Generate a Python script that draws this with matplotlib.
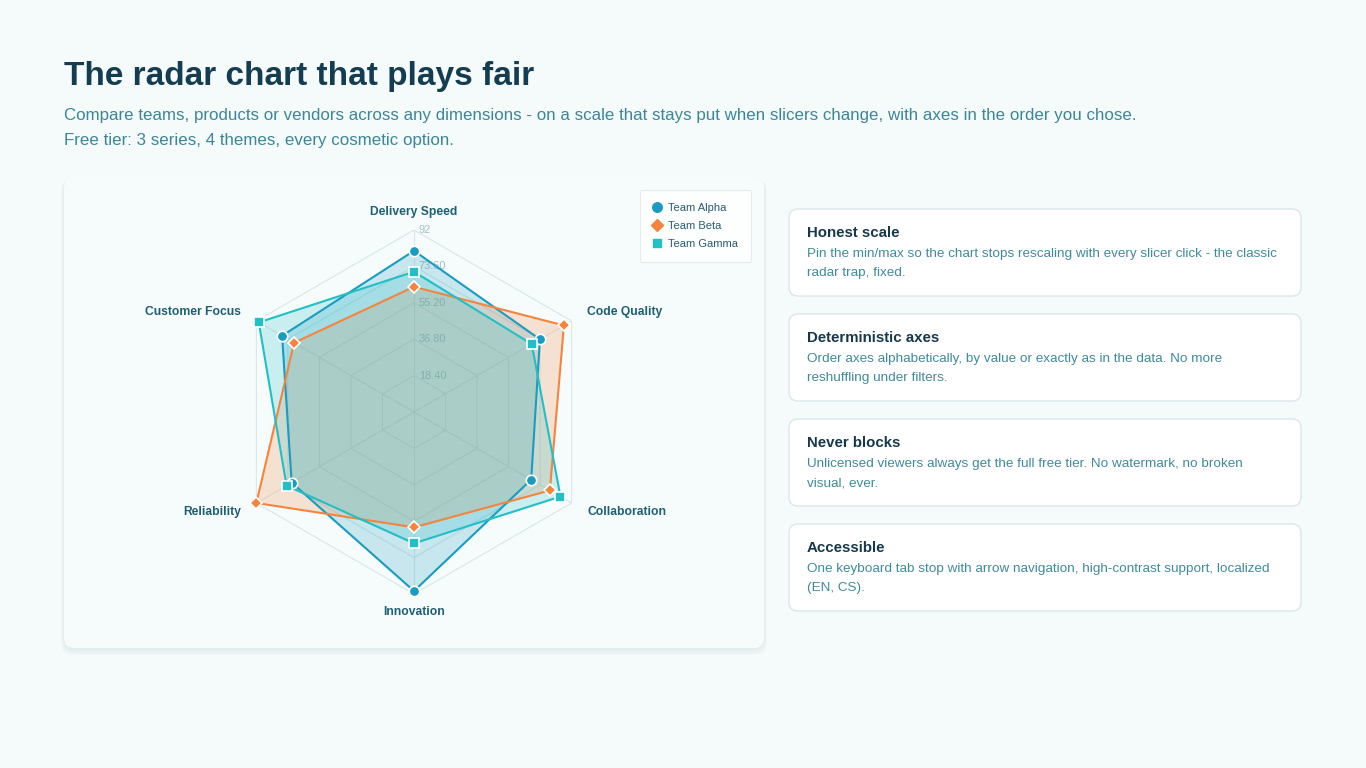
import matplotlib

matplotlib.use("Agg")

import matplotlib.pyplot as plt
import numpy as np
from matplotlib.lines import Line2D
from matplotlib.patches import FancyBboxPatch

# --- data -----------------------------------------------------------------
axis_names = ["Delivery Speed", "Code Quality", "Collaboration", "Innovation", "Reliability", "Customer Focus"]
team_alpha = [81.5, 73.5, 68.4, 90.5, 71.4, 77.0]
team_beta = [63.3, 87.5, 79.3, 58.3, 92.0, 70.0]
team_gamma = [70.9, 68.7, 85.5, 66.4, 74.4, 90.6]
series_names = ["Team Alpha", "Team Beta", "Team Gamma"]
scale_max = 92.0
tick_values = [18.4, 36.8, 55.2, 73.6, 92.0]
tick_labels = ["18.40", "36.80", "55.20", "73.60", "92"]

title = "The radar chart that plays fair"
subtitle = [
    "Compare teams, products or vendors across any dimensions - on a scale that stays put when slicers change, with axes in the order you chose.",
    "Free tier: 3 series, 4 themes, every cosmetic option.",
]
card_titles = ["Honest scale", "Deterministic axes", "Never blocks", "Accessible"]
card_texts = [
    "Pin the min/max so the chart stops rescaling with every slicer click - the classic\nradar trap, fixed.",
    "Order axes alphabetically, by value or exactly as in the data. No more\nreshuffling under filters.",
    "Unlicensed viewers always get the full free tier. No watermark, no broken\nvisual, ever.",
    "One keyboard tab stop with arrow navigation, high-contrast support, localized\n(EN, CS).",
]

# --- style ----------------------------------------------------------------
plt.rcParams["font.family"] = ["Liberation Sans", "DejaVu Sans"]
W, H = 1366, 768
BG = "#f5fafa"
colors = ["#1a9cc0", "#f5843c", "#22bfc7"]
markers = ["o", "D", "s"]
marker_sizes = [7.5, 6.5, 6.8]

fig = plt.figure(figsize=(W / 100, H / 100), dpi=100, facecolor=BG)

# page layer in pixel units
page = fig.add_axes([0, 0, 1, 1], zorder=0)
page.set_xlim(0, W)
page.set_ylim(H, 0)
page.axis("off")

page.text(64, 85, title, fontsize=24, fontweight="bold", color="#143d52", va="baseline")
for i, line in enumerate(subtitle):
    page.text(64, 120 + i * 25, line, fontsize=12.2, color="#3b8797", va="baseline")

# chart card with soft shadow (no border)
for k in range(6, 0, -1):
    page.add_patch(FancyBboxPatch((64 - k * 0.5, 178 + 1), 700 + k, 470 + k,
                                  boxstyle="round,pad=0,rounding_size=12",
                                  fc=(0.1, 0.3, 0.35, 0.012), ec="none"))
page.add_patch(FancyBboxPatch((64, 178), 700, 470, boxstyle="round,pad=0,rounding_size=10",
                              fc="#f6fbfb", ec="none"))

# feature cards
for i, (ct, cx) in enumerate(zip(card_titles, card_texts)):
    top = 209 + i * 105
    page.add_patch(FancyBboxPatch((789, top), 512, 87, boxstyle="round,pad=0,rounding_size=9",
                                  fc="white", ec="#dbe7ea", lw=1.0))
    page.text(807, top + 28, ct, fontsize=10.8, fontweight="bold", color="#16384a", va="baseline")
    for j, line in enumerate(cx.split("\n")):
        page.text(807, top + 48 + j * 19, line, fontsize=9.7, color="#3f8b99", va="baseline")

# --- radar ----------------------------------------------------------------
cx_px, cy_px, R = 414, 412, 182
ax = fig.add_axes([(cx_px - R) / W, (H - cy_px - R) / H, 2 * R / W, 2 * R / H], projection="polar", zorder=1)
ax.patch.set_alpha(0)
ax.set_theta_offset(np.pi / 2)
ax.set_theta_direction(-1)
ax.set_ylim(0, scale_max)
ax.set_xticks([])
ax.set_yticks([])
ax.grid(False)
ax.spines["polar"].set_visible(False)

angles = np.linspace(0, 2 * np.pi, len(axis_names), endpoint=False)
closed = np.append(angles, angles[0])

for t in tick_values:
    ax.plot(closed, [t] * len(closed), color="#d9e7ea", lw=0.8, zorder=1)
for a in angles:
    ax.plot([a, a], [0, scale_max], color="#d9e7ea", lw=0.8, zorder=1)
for t, lbl in zip(tick_values, tick_labels):
    ax.annotate(lbl, xy=(0, t), xytext=(3.5, 0), textcoords="offset points", ha="left", va="center",
                fontsize=7.9, color="#a3bfc6", zorder=1.5)

label_r = scale_max * 200 / R
for a, name in zip(angles, axis_names):
    s = np.sin(a)
    ha = "center" if abs(s) < 0.1 else ("left" if s > 0 else "right")
    ax.text(a, label_r, name, ha=ha, va="center", fontsize=8.7, fontweight="bold",
            color="#1e5f73", clip_on=False)

for vals, col, mk, ms in zip([team_alpha, team_beta, team_gamma], colors, markers, marker_sizes):
    v = np.append(vals, vals[0])
    ax.fill(closed, v, color=col, alpha=0.21, lw=0, zorder=2)
    ax.plot(closed, v, color=col, lw=1.5, zorder=3)
    ax.plot(angles, vals, ls="none", marker=mk, ms=ms, mfc=col, mec="white", mew=1.2, zorder=4,
            clip_on=False)

handles = [Line2D([], [], ls="none", marker=mk, ms=ms - 0.6, mfc=col, mec=col)
           for col, mk, ms in zip(colors, markers, marker_sizes)]
leg = fig.legend(handles, series_names, loc="upper right", bbox_to_anchor=(751 / W, 1 - 190 / H),
                 borderaxespad=0, frameon=True, fontsize=8, handlelength=0.8, handletextpad=0.6,
                 labelspacing=0.72, borderpad=1.15, fancybox=True, labelcolor="#2b5b6b")
leg.get_frame().set_edgecolor("#dfe9eb")
leg.get_frame().set_facecolor("white")
leg.get_frame().set_linewidth(0.8)

fig.savefig("out.png", dpi=100, facecolor=BG)
